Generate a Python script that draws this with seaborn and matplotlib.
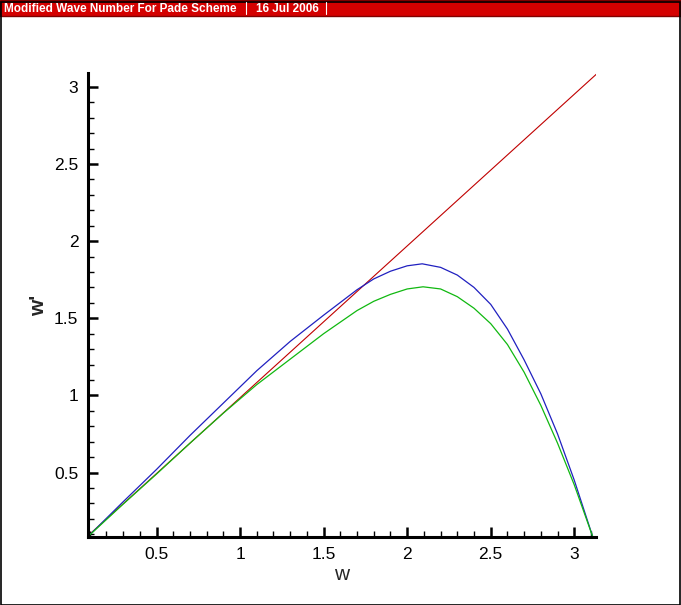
import matplotlib
matplotlib.use("Agg")
import matplotlib.pyplot as plt
from matplotlib.ticker import MultipleLocator
from matplotlib.lines import Line2D
from matplotlib.patches import Rectangle
import pandas as pd
import seaborn as sns

# values
w_exact = [0.09, 3.14]
wp_exact = [0.09, 3.09]

w_blue = [0.09, 0.3, 0.5, 0.7, 0.9, 1.1, 1.3, 1.5, 1.7, 1.8, 1.9, 2.0, 2.09,
          2.2, 2.3, 2.4, 2.5, 2.6, 2.7, 2.8, 2.9, 3.0, 3.11]
wp_blue = [0.085, 0.31, 0.52, 0.74, 0.95, 1.16, 1.35, 1.52, 1.685, 1.755, 1.805, 1.84, 1.853,
           1.83, 1.78, 1.70, 1.59, 1.43, 1.23, 1.01, 0.75, 0.45, 0.085]

w_green = [0.09, 0.3, 0.5, 0.7, 0.9, 1.1, 1.3, 1.5, 1.7, 1.8, 1.9, 2.0, 2.095,
           2.2, 2.3, 2.4, 2.5, 2.6, 2.7, 2.8, 2.9, 3.0, 3.11]
wp_green = [0.085, 0.295, 0.49, 0.69, 0.885, 1.07, 1.235, 1.40, 1.55, 1.61, 1.655, 1.69, 1.704,
            1.69, 1.64, 1.565, 1.465, 1.33, 1.15, 0.935, 0.69, 0.42, 0.085]

sns.set_style("white")
plt.rcParams["font.family"] = ["Liberation Sans", "DejaVu Sans"]

fig = plt.figure(figsize=(6.81, 6.05), dpi=100)
ax = fig.add_axes([88 / 681, 1 - 537 / 605, (596 - 88) / 681, (537 - 73) / 605])

df_exact = pd.DataFrame({"w": w_exact, "wp": wp_exact})
df_blue = pd.DataFrame({"w": w_blue, "wp": wp_blue})
df_green = pd.DataFrame({"w": w_green, "wp": wp_green})

sns.lineplot(data=df_exact, x="w", y="wp", ax=ax, color="#c00000", lw=0.8, sort=False)
sns.lineplot(data=df_blue, x="w", y="wp", ax=ax, color="#2020c0", lw=0.9, sort=False)
sns.lineplot(data=df_green, x="w", y="wp", ax=ax, color="#10b810", lw=0.9, sort=False)

ax.set_xlim(0.09, 3.13)
ax.set_ylim(0.082, 3.09)
ax.xaxis.set_major_locator(MultipleLocator(0.5))
ax.xaxis.set_minor_locator(MultipleLocator(0.1))
ax.yaxis.set_major_locator(MultipleLocator(0.5))
ax.yaxis.set_minor_locator(MultipleLocator(0.1))
ax.xaxis.set_major_formatter(lambda v, p: f"{v:g}")
ax.yaxis.set_major_formatter(lambda v, p: f"{v:g}")

for s in ["top", "right"]:
    ax.spines[s].set_visible(False)
for s in ["left", "bottom"]:
    ax.spines[s].set_linewidth(2.2)
    ax.spines[s].set_color("black")

ax.tick_params(which="major", direction="in", length=7, width=1.8, labelsize=12.5,
               pad=7, colors="black")
ax.tick_params(which="minor", direction="in", length=4, width=1.0, colors="black")
ax.tick_params(axis="x", which="both", bottom=True)
ax.tick_params(axis="y", which="both", left=True)

ax.set_xlabel("w", fontsize=15, labelpad=2)
ax.set_ylabel("w'", fontsize=15, fontweight="bold", labelpad=4)

# header bar
fig.patches.append(Rectangle((0, 1 - 16 / 605), 1, 16 / 605, transform=fig.transFigure,
                             facecolor="#d40000", edgecolor="#800000", lw=1))
fig.text(4 / 681, 1 - 8.5 / 605, "Modified Wave Number For Pade Scheme", color="white",
         fontsize=8.5, fontweight="bold", va="center", ha="left")
fig.text(256 / 681, 1 - 8.5 / 605, "16 Jul 2006", color="white",
         fontsize=8.5, fontweight="bold", va="center", ha="left")
for xp in [246, 326]:
    fig.add_artist(Line2D([xp / 681, xp / 681], [1 - 14 / 605, 1 - 2 / 605],
                          transform=fig.transFigure, color="white", lw=0.8))

# outer frame
fig.patches.append(Rectangle((0.5 / 681, 0.5 / 605), 679 / 681, 603 / 605,
                             transform=fig.transFigure, fill=False,
                             edgecolor="black", lw=1.2))

fig.savefig("out.png", dpi=100)
